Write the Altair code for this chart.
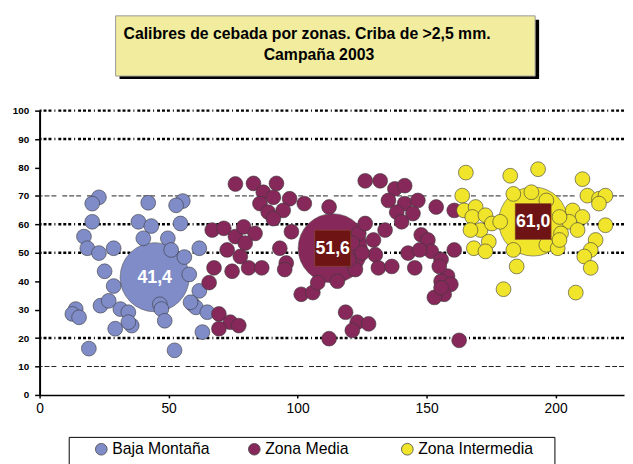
import altair as alt
import pandas as pd

zones = ["Baja Montaña", "Zona Media", "Zona Intermedia"]
colors = ["#7F8CC8", "#87285A", "#F0E52A"]
means = [41.4, 51.6, 61.0]
mean_x = [44.6, 113.6, 191.3]

baja_x = [23.0, 20.4, 42.1, 55.5, 52.9, 20.4, 38.3, 43.3, 54.6, 17.2, 40.2, 49.7, 18.5, 23.0,
          28.7, 51.0, 61.9, 56.1, 25.2, 58.0, 28.7, 61.9, 14.0, 12.7, 15.3, 23.6, 26.8, 31.3,
          34.4, 46.6, 47.2, 59.3, 60.6, 65.0, 35.7, 34.4, 48.5, 29.3, 63.1, 19.1, 52.3, 58.5]
baja_y = [69.5, 67.3, 67.6, 68.2, 66.7, 60.9, 60.9, 59.4, 60.3, 55.7, 55.1, 55.1, 51.6, 49.9,
          51.6, 51.0, 51.6, 48.5, 43.5, 42.4, 38.3, 36.6, 30.2, 28.5, 27.3, 31.4, 33.1, 30.2,
          29.1, 31.9, 30.2, 31.9, 30.8, 29.1, 24.4, 25.6, 26.1, 23.3, 22.1, 16.3, 15.7, 32.6]

media_x = [75.9, 82.9, 91.8, 86.7, 90.6, 85.4, 96.9, 102.6, 88.6, 94.4, 90.6, 112.2, 126.2,
           132.0, 137.7, 141.5, 135.2, 141.5, 146.6, 138.4, 144.7, 140.3, 153.7, 160.7, 66.9, 71.4,
           75.9, 79.1, 83.5, 79.7, 72.7, 77.8, 67.6, 74.6, 81.0, 86.1, 65.7, 93.1, 97.6,
           95.6, 95.0, 101.4, 105.9, 107.8, 115.4, 122.4, 123.7, 126.2, 129.4, 133.9, 130.1, 131.3,
           136.5, 121.2, 125.0, 119.9, 147.9, 150.5, 142.8, 151.8, 160.7, 145.4, 155.6, 158.1, 155.6,
           159.4, 156.8, 153.0, 118.6, 123.1, 127.5, 121.2, 112.2, 69.5, 73.9, 77.2, 69.5, 162.6,
           147.3, 154.9, 155.6]
media_y = [74.2, 74.4, 74.4, 71.3, 69.5, 67.3, 69.0, 67.3, 64.3, 64.9, 62.0, 66.1, 75.3,
           75.3, 72.5, 73.6, 68.4, 67.3, 68.4, 64.3, 63.8, 60.9, 66.1, 64.9, 58.0, 58.6,
           55.7, 59.1, 56.8, 53.4, 51.0, 48.7, 44.7, 43.5, 44.7, 44.7, 39.5, 51.6, 57.4,
           46.4, 44.1, 35.4, 36.0, 39.5, 40.0, 44.1, 56.8, 60.3, 54.5, 58.0, 49.3, 44.7,
           45.2, 53.4, 49.9, 47.6, 56.3, 54.5, 49.9, 50.5, 51.0, 44.7, 47.6, 41.8, 40.0,
           38.9, 35.4, 34.3, 29.1, 25.6, 25.0, 22.7, 19.8, 28.5, 25.6, 24.4, 23.3, 19.2,
           51.0, 45.2, 37.7]

inter_x = [165.2, 182.4, 193.2, 210.4, 163.8, 164.5, 169.0, 167.7, 172.8, 170.9, 175.3, 178.5,
           174.1, 168.3, 172.8, 190.6, 183.6, 196.4, 212.3, 216.8, 219.3, 216.8, 206.6, 210.4,
           205.3, 208.5, 201.5, 202.1, 219.3, 215.5, 213.6, 211.1, 213.6, 196.4, 200.8, 201.5,
           184.9, 183.6, 179.8, 207.8, 167.0]
inter_y = [78.2, 77.1, 79.4, 75.9, 70.1, 64.9, 66.1, 62.6, 63.2, 58.0, 60.3, 60.9,
           53.9, 51.6, 50.5, 71.3, 70.7, 68.4, 70.1, 69.0, 70.1, 67.3, 64.9, 62.6,
           60.9, 58.0, 62.6, 56.8, 59.7, 54.5, 51.0, 48.7, 44.7, 52.8, 51.6, 54.5,
           45.2, 51.0, 37.2, 36.0, 58.0]

x_ticks = [0, 50, 100, 150, 200]
y_ticks = [0, 10, 20, 30, 40, 50, 60, 70, 80, 90, 100]
heavy_grid = [20, 50, 60, 90, 100]
thin_grid = [10, 70]
title_lines = ["Calibres de cebada por zonas. Criba de >2,5 mm.", "Campaña 2003"]

FONT = "Liberation Sans"

pts = pd.concat([
    pd.DataFrame({"zona": zones[0], "x": baja_x, "y": baja_y}),
    pd.DataFrame({"zona": zones[1], "x": media_x, "y": media_y}),
    pd.DataFrame({"zona": zones[2], "x": inter_x, "y": inter_y}),
], ignore_index=True)

mdf = pd.DataFrame({"zona": zones, "x": mean_x, "y": means,
                    "label": [f"{v:.1f}".replace(".", ",") for v in means]})

xs = alt.Scale(domain=[0, 226.5], nice=False, zero=False)
ys = alt.Scale(domain=[0, 100], nice=False)
cs = alt.Scale(domain=zones, range=colors)

xaxis = alt.Axis(values=x_ticks, title=None, grid=False, domainColor="black", domainWidth=1.5,
                 tickColor="black", tickSize=3, tickWidth=1.5, labelFont=FONT, labelFontSize=14,
                 labelColor="black", labelPadding=4, labelFlush=False)
yaxis = alt.Axis(values=y_ticks, title=None, grid=False, domainColor="black", domainWidth=2,
                 tickColor="black", tickSize=5, tickWidth=1.5, labelFont=FONT, labelFontSize=10,
                 labelFontWeight="bold", labelColor="black", labelPadding=6)

legend = alt.Legend(orient="none", legendX=54.5, legendY=335, direction="horizontal", title=None,
                    labelFont=FONT, labelFontSize=16, labelColor="black", symbolType="circle",
                    symbolSize=140, symbolStrokeColor="#444444", symbolStrokeWidth=0.8,
                    labelOffset=3, columnPadding=19, gridAlign="all", padding=0, labelLimit=300)

X = alt.X("x:Q", scale=xs, axis=xaxis)
Y = alt.Y("y:Q", scale=ys, axis=yaxis)
C = alt.Color("zona:N", scale=cs, legend=legend)

one = pd.DataFrame({"k": [0]})

# decorative title box
shadow = alt.Chart(one).mark_rect(fill="black").encode(
    x=alt.value(81), x2=alt.value(506), y=alt.value(-92), y2=alt.value(-32))
tbox = alt.Chart(one).mark_rect(fill="#F1EC9E", stroke="#999999", strokeWidth=1).encode(
    x=alt.value(77), x2=alt.value(502), y=alt.value(-96), y2=alt.value(-35))
t1 = alt.Chart(one).mark_text(text=title_lines[0], font=FONT, fontSize=16, fontWeight="bold",
                              align="left", baseline="alphabetic", color="black").encode(
    x=alt.value(85), y=alt.value(-73))
t2 = alt.Chart(one).mark_text(text=title_lines[1], font=FONT, fontSize=16, fontWeight="bold",
                              align="left", baseline="alphabetic", color="black").encode(
    x=alt.value(227), y=alt.value(-51))
lbox = alt.Chart(one).mark_rect(fill="white", stroke="black", strokeWidth=1).encode(
    x=alt.value(30), x2=alt.value(522), y=alt.value(331), y2=alt.value(400))

heavy = alt.Chart(pd.DataFrame({"y": heavy_grid})).mark_rule(
    color="black", strokeWidth=2.5, strokeDash=[3, 2, 3, 2, 3, 3, 1, 3]).encode(y=Y)
thin = alt.Chart(pd.DataFrame({"y": thin_grid})).mark_rule(
    color="#222222", strokeWidth=1, strokeDash=[5, 2, 5, 2, 5, 6]).encode(y=Y)

layers = [shadow, tbox, t1, t2, lbox, heavy, thin]
for z in zones:
    big = alt.Chart(mdf).transform_filter(alt.datum.zona == z).mark_circle(
        size=4900, opacity=1, stroke="#555555", strokeWidth=0.6).encode(x=X, y=Y, color=C)
    small = alt.Chart(pts).transform_filter(alt.datum.zona == z).mark_circle(
        size=225, opacity=1, stroke="#3a3a3a", strokeWidth=0.6).encode(x=X, y=Y, color=C)
    layers += [big, small]

boxes = alt.Chart(mdf).transform_filter(alt.datum.zona != zones[0]).mark_square(
    size=1330, fill="#6E1414", opacity=1, stroke="#8a5a2a", strokeWidth=0.5).encode(x=X, y=Y)
labels = alt.Chart(mdf).mark_text(font=FONT, fontSize=18, fontWeight="bold", color="white",
                                  align="center", baseline="middle", dy=1).encode(
    x=X, y=Y, text="label:N")
layers += [boxes, labels]

chart = alt.layer(*layers).properties(
    width=592, height=288,
    autosize=alt.AutoSizeParams(type="none"),
    padding={"left": 32, "top": 101, "right": 1, "bottom": 67},
    background="white",
).configure_view(stroke=None)

chart.save("out.html", embed_options={"renderer": "svg", "actions": False})
